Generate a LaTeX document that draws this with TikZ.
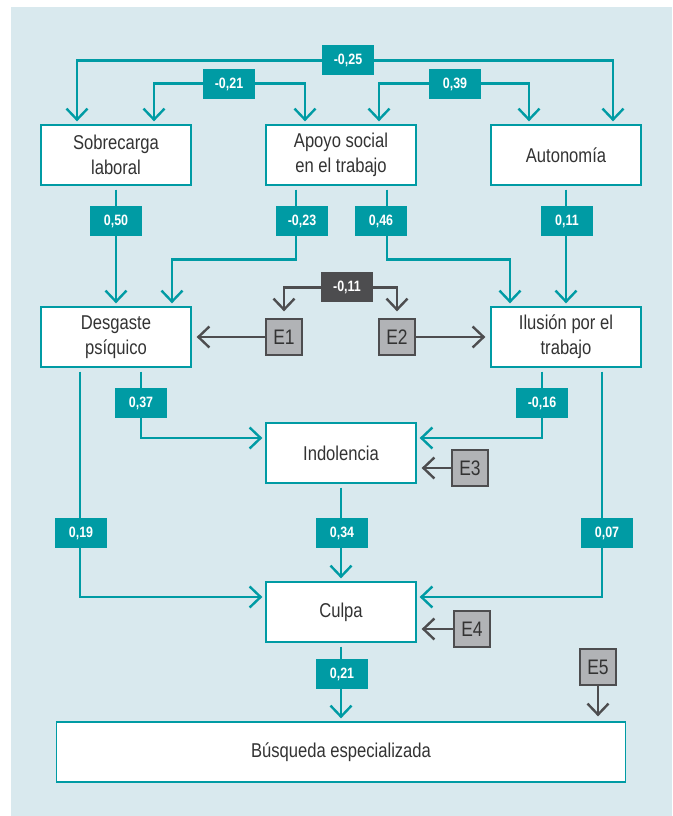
\documentclass[tikz,border=0pt]{standalone}
\usepackage{fontspec}
\setmainfont{Liberation Sans}[FakeStretch=0.83]
\usetikzlibrary{arrows.meta}
\definecolor{tealc}{HTML}{009BA4}
\definecolor{bgblue}{HTML}{D9E9EE}
\definecolor{darkgr}{HTML}{4D4D4F}
\definecolor{lightgr}{HTML}{B1B3B6}
\definecolor{txt}{HTML}{333333}
\tikzstyle{box} = [rectangle, minimum width=150pt, minimum height=60pt, inner sep=0pt, text centered, align=center, draw=tealc, line width=1.3pt, fill=white, text=txt, font=\fontsize{20}{25}\selectfont]
\tikzstyle{err} = [rectangle, minimum width=36pt, minimum height=36pt, inner sep=0pt, draw=darkgr, line width=1.3pt, fill=lightgr, text=txt, font=\fontsize{21}{24}\selectfont]
\tikzstyle{coef} = [rectangle, minimum width=52pt, minimum height=30pt, inner sep=0pt, fill=tealc, text=white, font=\bfseries\fontsize{15}{16}\selectfont]
\tikzstyle{coefdark} = [coef, fill=darkgr]
\tikzstyle{arrow} = [line width=2.4pt, draw=tealc, -{Straight Barb[length=11pt,width=21pt]}, shorten >=3pt, shorten <=4pt]
\tikzstyle{biarrow} = [arrow, {Straight Barb[length=11pt,width=21pt]}-{Straight Barb[length=11pt,width=21pt]}, shorten <=3pt]
\tikzstyle{darrow} = [arrow, draw=darkgr, shorten <=0pt, shorten >=5pt]
\tikzstyle{dbiarrow} = [biarrow, draw=darkgr, shorten <=7pt, shorten >=7pt]

\begin{document}
\begin{tikzpicture}[x=1pt, y=1pt, node distance=225pt]
	\useasboundingbox (0,0) rectangle (672,-816);
	\fill [bgblue] (11,-7) rectangle (672,-816);

	\node (sobre) [box] at (116,-155) {Sobrecarga\\laboral};
	\node (apoyo) [box, right of=sobre] {Apoyo social\\en el trabajo};
	\node (auto) [box, right of=apoyo] {Autonomía};
	\node (desg) [box, node distance=182pt, below of=sobre] {Desgaste\\psíquico};
	\node (ilus) [box, node distance=182pt, below of=auto] {Ilusión por el\\trabajo};
	\node (indo) [box, node distance=298pt, below of=apoyo] {Indolencia};
	\node (culpa) [box, node distance=159pt, below of=indo] {Culpa};
	\node (busq) [box, minimum width=569pt, node distance=140pt, below of=culpa] {Búsqueda especializada};

	\node (e1) [err] at (284,-337) {E1};
	\node (e2) [err] at (397,-337) {E2};
	\node (e3) [err] at (470,-468) {E3};
	\node (e4) [err] at (472,-629) {E4};
	\node (e5) [err] at (598,-667) {E5};

	% correlations between the top boxes
	\draw [biarrow] ([xshift=-39pt]sobre.north) -- ++(0,64) -| ([xshift=47pt]auto.north);
	\draw [biarrow] ([xshift=38pt]sobre.north) -- ++(0,41) -| ([xshift=-36pt]apoyo.north);
	\draw [biarrow] ([xshift=38pt]apoyo.north) -- ++(0,41) -| ([xshift=-37pt]auto.north);

	\draw [arrow] (sobre) -- (desg);
	\draw [arrow] ([xshift=-45pt]apoyo.south) -- ++(0,-74) -| ([xshift=56pt]desg.north);
	\draw [arrow] ([xshift=46pt]apoyo.south) -- ++(0,-74) -| ([xshift=-56pt]ilus.north);
	\draw [arrow] (auto) -- (ilus);

	\draw [dbiarrow] (e1.north) -- ++(0,31) -| (e2.north);
	\draw [darrow] (e1) -- (desg);
	\draw [darrow] (e2) -- (ilus);

	\draw [arrow] ([xshift=25pt]desg.south) |- ([yshift=15pt]indo.west);
	\draw [arrow] ([xshift=-24pt]ilus.south) |- ([yshift=15pt]indo.east);
	\draw [darrow] (e3) -- (e3 -| indo.east);

	\draw [arrow] ([xshift=-36pt]desg.south) |- ([yshift=15pt]culpa.west);
	\draw [arrow] ([xshift=36pt]ilus.south) |- ([yshift=15pt]culpa.east);
	\draw [arrow] (indo) -- (culpa);
	\draw [darrow] (e4) -- (e4 -| culpa.east);

	\draw [arrow] (culpa) -- (busq);
	\draw [darrow] (e5) -- (e5 |- busq.north);

	% path coefficients
	\node (l025) [coef] at (348,-60) {-0,25};
	\node (l021) [coef] at (229,-84) {-0,21};
	\node (l039) [coef] at (455,-84) {0,39};
	\node (l050) [coef] at (116,-221) {0,50};
	\node (l023) [coef] at (302,-221) {-0,23};
	\node (l046) [coef] at (381,-221) {0,46};
	\node (l011) [coef] at (567,-221) {0,11};
	\node (le12) [coefdark] at (347,-287) {-0,11};
	\node (l037) [coef] at (141,-403) {0,37};
	\node (l016) [coef] at (542,-403) {-0,16};
	\node (l019) [coef] at (81,-533) {0,19};
	\node (l034) [coef] at (342,-533) {0,34};
	\node (l007) [coef] at (607,-533) {0,07};
	\node (l021b) [coef] at (342,-674) {0,21};
\end{tikzpicture}
\end{document}
